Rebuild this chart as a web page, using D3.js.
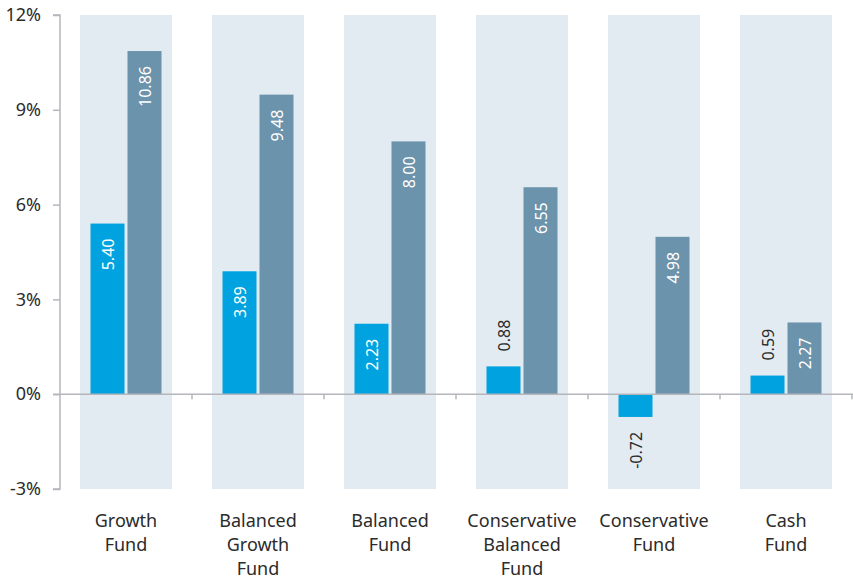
<!DOCTYPE html>
<html>
<head>
<meta charset="utf-8">
<script src="https://cdn.jsdelivr.net/npm/d3@7"></script>
<style>
  html, body { margin: 0; padding: 0; background: #fff; }
  svg { display: block; font-family: "Noto Sans", "Open Sans", sans-serif; }
</style>
</head>
<body>
<svg id="chart" width="853" height="579"></svg>
<script>
// Fund returns (%)
const categories = ["Growth Fund", "Balanced Growth Fund", "Balanced Fund",
                    "Conservative Balanced Fund", "Conservative Fund", "Cash Fund"];
const categoryLines = [["Growth", "Fund"], ["Balanced", "Growth", "Fund"], ["Balanced", "Fund"],
                       ["Conservative", "Balanced", "Fund"], ["Conservative", "Fund"], ["Cash", "Fund"]];
const seriesA = [5.40, 3.89, 2.23, 0.88, -0.72, 0.59];
const seriesB = [10.86, 9.48, 8.00, 6.55, 4.98, 2.27];
const yTicks = [-3, 0, 3, 6, 9, 12];

const colorA = "#00a3e0";
const colorB = "#6b93ac";
const bandFill = "#e3ebf2";
const axisColor = "#b4b6bc";
const textColor = "#2b2b2b";

const svg = d3.select("#chart");
const plotLeft = 60, plotRight = 852, plotTop = 15, plotBottom = 489;

const x = d3.scaleBand().domain(categories).range([plotLeft, plotRight]).paddingInner(0).paddingOuter(0);
const bandPad = 20;
const y = d3.scaleLinear().domain([-3, 12]).range([plotBottom, plotTop]);

// background bands
svg.append("g").selectAll("rect").data(categories).join("rect")
  .attr("x", d => x(d) + bandPad)
  .attr("width", x.bandwidth() - 2 * bandPad)
  .attr("y", y(12))
  .attr("height", y(-3) - y(12))
  .attr("fill", bandFill);

// inner scale for the two bars inside a category
const x1 = d3.scaleBand().domain(["A", "B"]).range([0, 71]).paddingInner(3 / 37);
const groupOffset = (x.bandwidth() - 71) / 2;

const rows = categories.map((c, i) => [
  { c, key: "A", v: seriesA[i], color: colorA },
  { c, key: "B", v: seriesB[i], color: colorB }
]).flat();

const bars = svg.append("g");
bars.selectAll("rect").data(rows).join("rect")
  .attr("x", d => x(d.c) + groupOffset + x1(d.key))
  .attr("width", x1.bandwidth())
  .attr("y", d => y(Math.max(0, d.v)))
  .attr("height", d => Math.abs(y(d.v) - y(0)))
  .attr("fill", d => d.color);

// zero line
svg.append("line")
  .attr("x1", plotLeft - 7).attr("x2", 853)
  .attr("y1", y(0)).attr("y2", y(0))
  .attr("stroke", axisColor).attr("stroke-width", 1.5);

// category ticks on the zero line
svg.append("g").selectAll("line").data(categories).join("line")
  .attr("x1", d => x(d) + x.bandwidth()).attr("x2", d => x(d) + x.bandwidth())
  .attr("y1", y(0)).attr("y2", y(0) + 5)
  .attr("stroke", axisColor).attr("stroke-width", 1.5);

// y axis
const yAxis = d3.axisLeft(y).tickValues(yTicks).tickSize(7).tickPadding(12)
  .tickFormat(d => d + "%");
const gy = svg.append("g").attr("transform", `translate(${plotLeft},0)`).call(yAxis);
gy.select(".domain").attr("stroke", axisColor).attr("stroke-width", 1.5)
  .attr("d", `M${-7},${y(12)}H0V${y(-3)}H${-7}`);
gy.selectAll(".tick line").attr("stroke", axisColor).attr("stroke-width", 1.5);
gy.selectAll(".tick text").attr("fill", textColor).attr("font-size", 18)
  .attr("font-family", "'Noto Sans', sans-serif");

// value labels (rotated), plain hyphen for negatives
const fmt = d3.formatLocale({ decimal: ".", thousands: ",", grouping: [3], currency: ["", ""], minus: "-" }).format(".2f");
const labels = svg.append("g");
rows.forEach(d => {
  const cx = x(d.c) + groupOffset + x1(d.key) + x1.bandwidth() / 2;
  const h = Math.abs(y(d.v) - y(0));
  const inside = h > 50;
  let ty, anchor, fill;
  if (d.v >= 0) {
    if (inside) { ty = y(d.v) + 15; anchor = "end"; fill = "#ffffff"; }
    else { ty = y(d.v) - 15; anchor = "start"; fill = textColor; }
  } else {
    ty = y(d.v) + 15; anchor = "end"; fill = textColor;
  }
  labels.append("text")
    .attr("transform", `translate(${cx},${ty}) rotate(-90)`)
    .attr("text-anchor", anchor)
    .attr("dominant-baseline", "central")
    .attr("font-size", 16)
    .attr("fill", fill)
    .text(fmt(d.v));
});

// category labels
const cl = svg.append("g");
categories.forEach((c, i) => {
  const t = cl.append("text")
    .attr("x", x(c) + x.bandwidth() / 2)
    .attr("y", 527)
    .attr("text-anchor", "middle")
    .attr("font-size", 18)
    .attr("fill", textColor);
  categoryLines[i].forEach((line, j) => {
    t.append("tspan").attr("x", x(c) + x.bandwidth() / 2).attr("dy", j === 0 ? 0 : 24).text(line);
  });
});
</script>
</body>
</html>
